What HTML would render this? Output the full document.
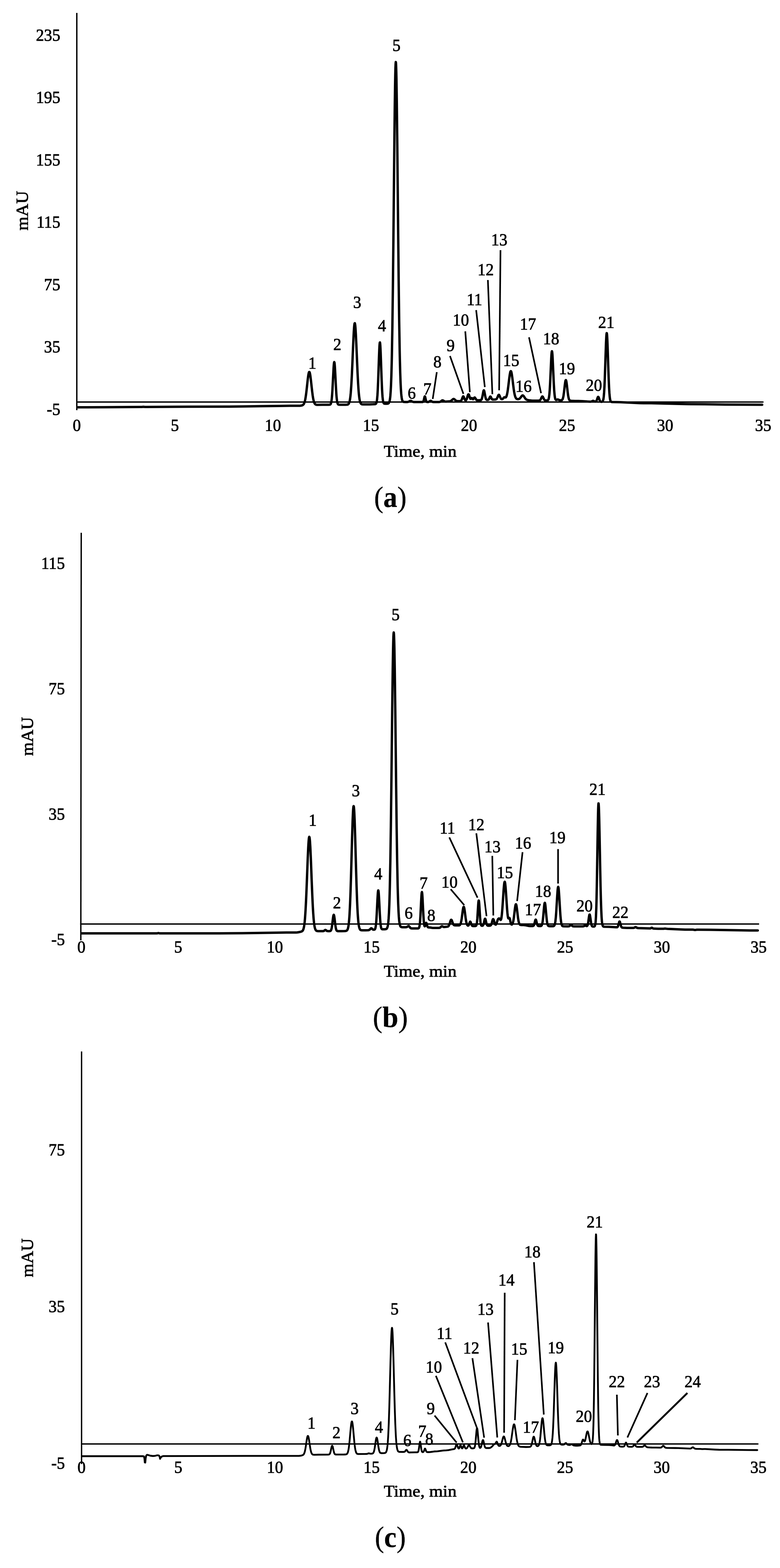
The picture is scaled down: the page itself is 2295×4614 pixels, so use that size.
<!DOCTYPE html>
<html lang="en"><head><meta charset="utf-8"><title>Chromatograms</title>
<style>
html,body{margin:0;padding:0;background:#fff;}
body{width:2295px;height:4614px;overflow:hidden;}
svg{display:block;}
text{font-family:"Liberation Serif", "DejaVu Serif", serif;}
</style></head><body>
<svg width="2295" height="4614" viewBox="0 0 2295 4614" font-family='"Liberation Serif", "DejaVu Serif", serif' fill="none" stroke="#000">
<g><path d="M226.0 38.0 L226.0 1207.0" stroke-width="4.0"/>
<path d="M224.0 1183.0 H2246.5" stroke-width="4.0"/>
<path d="M228 1198.5 L308.5 1198.3 L412.5 1197.6 L417 1197.5 L422 1197 L426.5 1197.4 L430 1197.5 L555 1196.7 L673.5 1196.4 L715.5 1195.9 L822 1194.4 L852.5 1194.1 L880.5 1194 L883 1193.9 L885.5 1193.6 L887.5 1193.2 L889.5 1192.6 L891 1191.8 L892.5 1190.6 L893.5 1189.3 L894 1188.6 L895 1186.6 L896 1183.9 L897 1180.5 L898 1176.2 L899 1170.7 L900.5 1160.6 L902 1148.3 L905.5 1116.4 L907 1104.9 L908 1099.3 L908.5 1097.2 L909 1095.7 L909.5 1094.8 L910 1094.5 L910.5 1094.8 L911 1095.7 L911.5 1097.1 L912 1099.2 L913 1104.7 L914.5 1116.1 L918.5 1152.1 L920 1163.7 L921 1170.1 L922 1175.5 L923.5 1181.6 L924.5 1184.5 L925 1185.7 L926 1187.6 L927 1188.9 L927.5 1189.4 L928.5 1190.1 L930 1190.8 L931 1191 L932.5 1191.2 L935.5 1191.2 L948 1191 L967 1191 L970 1190.8 L971 1190.6 L972 1190 L972.5 1189.5 L973 1188.8 L973.5 1187.7 L974 1186.3 L974.5 1184.5 L975 1182 L976 1174.9 L977 1164.2 L978 1149.4 L981.5 1082.6 L982 1075.4 L982.5 1070 L983 1066.6 L983.5 1065.5 L984 1066.6 L984.5 1070 L985 1075.4 L985.5 1082.6 L986.5 1100.6 L988.5 1140.6 L989.5 1157.3 L990 1164.2 L990.5 1170 L991.5 1178.9 L992 1182 L992.5 1184.5 L993 1186.3 L993.5 1187.7 L994 1188.8 L994.5 1189.5 L995 1190 L995.5 1190.3 L996 1190.6 L997 1190.8 L1000 1191 L1016.5 1191 L1020.5 1190.8 L1022.5 1190.5 L1024 1189.9 L1025 1189.1 L1025.5 1188.6 L1026.5 1187.2 L1027 1186.1 L1028 1183.4 L1029 1179.5 L1030 1173.9 L1031 1166.3 L1032 1156.3 L1033.5 1136.1 L1035 1109.2 L1036.5 1076.6 L1039.5 1005.5 L1041 975.8 L1042 961.6 L1042.5 956.6 L1043 953.1 L1043.5 951.3 L1044 951.1 L1044.5 952.6 L1045 955.7 L1045.5 960.4 L1046 966.6 L1047 982.8 L1048.5 1014.3 L1052 1096.4 L1053.5 1125.7 L1054.5 1141.7 L1055.5 1154.7 L1056 1160.1 L1057 1169.1 L1057.5 1172.7 L1058.5 1178.4 L1059.5 1182.5 L1060.5 1185.3 L1061 1186.3 L1062 1187.8 L1063 1188.7 L1064 1189.3 L1065 1189.7 L1066.5 1189.9 L1070 1190 L1088 1189.9 L1097.5 1189.6 L1103 1189.3 L1104 1189.1 L1105 1188.8 L1106 1188.1 L1106.5 1187.5 L1107 1186.6 L1107.5 1185.4 L1108 1183.7 L1108.5 1181.4 L1109 1178.3 L1109.5 1174.4 L1110.5 1163.1 L1111 1155.5 L1111.5 1146.4 L1112.5 1123.9 L1115 1052.7 L1116 1027.8 L1116.5 1018.4 L1117 1011.7 L1117.5 1008.1 L1118 1007.8 L1118.5 1010.7 L1119 1016.7 L1120 1036.7 L1122.5 1107.5 L1124 1143.8 L1125 1161 L1125.5 1167.5 L1126.5 1176.8 L1127 1180 L1127.5 1182.4 L1128 1184.1 L1128.5 1185.4 L1129 1186.3 L1129.5 1186.9 L1130 1187.4 L1131 1187.8 L1132.5 1188 L1139.5 1187.9 L1141 1187.7 L1142 1187.4 L1143 1186.8 L1143.5 1186.4 L1144.5 1185.1 L1145.5 1183 L1146.5 1179.4 L1147 1176.9 L1148 1169.7 L1148.5 1164.8 L1149.5 1151.6 L1150.5 1132.4 L1151.5 1105.5 L1152.5 1069 L1153 1046.6 L1154.5 960.8 L1156 846.1 L1157.5 706.1 L1160.5 401.2 L1161.5 314.1 L1162.5 245.1 L1163 219.3 L1163.5 199.9 L1164 187.6 L1164.5 182.4 L1165 184.5 L1165.5 193.9 L1166 210.3 L1166.5 233.4 L1167.5 297.7 L1169 428.7 L1171.5 684 L1173 826.3 L1174.5 944.4 L1176 1033.6 L1176.5 1057.1 L1177.5 1095.5 L1178.5 1124 L1179.5 1144.4 L1180.5 1158.5 L1181 1163.7 L1182 1171.3 L1182.5 1174 L1183.5 1177.8 L1184.5 1180.1 L1185.5 1181.4 L1186 1181.8 L1187 1182.4 L1188 1182.7 L1189 1182.8 L1193.5 1183 L1197 1183 L1199 1182.9 L1200.5 1182.6 L1202 1182.2 L1203.5 1181.5 L1206 1180 L1207 1179.6 L1208 1179.5 L1209 1179.6 L1210 1180 L1212.5 1181.5 L1214 1182.2 L1215.5 1182.6 L1217 1182.9 L1220.5 1183 L1240 1183 L1242.5 1183 L1243.5 1182.9 L1244.5 1182.4 L1245 1182 L1245.5 1181.3 L1246 1180.2 L1247 1177 L1249 1168.2 L1249.5 1167 L1250 1166.5 L1250.5 1167 L1251 1168.2 L1253 1177 L1254 1180.2 L1254.5 1181.3 L1255 1182 L1255.5 1182.4 L1256 1182.7 L1257 1182.9 L1259.5 1182.9 L1260.5 1182.8 L1261.5 1182.5 L1263 1181.7 L1265.5 1180 L1266.5 1179.6 L1267 1179.5 L1267.5 1179.6 L1268.5 1180 L1271 1181.7 L1272 1182.3 L1273 1182.6 L1274 1182.8 L1275.5 1183 L1278.5 1183 L1289.5 1183 L1292.5 1182.9 L1294 1182.6 L1295.5 1182.1 L1297 1181.2 L1300 1178.8 L1301 1178.2 L1302 1178 L1302.5 1178 L1303.5 1178.3 L1304.5 1178.9 L1307.5 1180.8 L1308.5 1181.3 L1310 1181.7 L1311.5 1181.8 L1313 1181.7 L1322.5 1181.1 L1325 1180.6 L1326 1180.2 L1327 1179.6 L1328.5 1178.5 L1331.5 1175.7 L1332.5 1174.8 L1333.5 1174.2 L1334.5 1174 L1335.5 1174.1 L1336.5 1174.6 L1337.5 1175.4 L1341 1178.6 L1342 1179.3 L1343.5 1179.9 L1345 1180.3 L1347 1180.5 L1350 1180.4 L1353.5 1180.2 L1355 1179.9 L1356 1179.5 L1357 1178.6 L1357.5 1178 L1358 1177.2 L1359 1175 L1361.5 1168.2 L1362 1167.2 L1362.5 1166.5 L1363 1166.3 L1363.5 1166.5 L1364 1167 L1364.5 1168 L1367 1174.5 L1368 1176.5 L1368.5 1177.1 L1369 1177.6 L1369.5 1177.9 L1370 1178 L1370.5 1177.9 L1371 1177.7 L1371.5 1177.2 L1372 1176.6 L1372.5 1175.7 L1373.5 1173.4 L1374.5 1170.3 L1376 1165 L1377 1162.1 L1377.5 1161.1 L1378 1160.5 L1378.5 1160.3 L1379 1160.6 L1379.5 1161.3 L1380 1162.4 L1383 1171.6 L1383.5 1172.7 L1384 1173.4 L1384.5 1173.8 L1385 1173.8 L1385.5 1173.5 L1387 1171.8 L1387.5 1171.4 L1388 1171.2 L1388.5 1171.4 L1389 1171.9 L1390.5 1173.9 L1391 1174.4 L1391.5 1174.7 L1392 1174.7 L1392.5 1174.4 L1393 1173.8 L1395 1170.8 L1395.5 1170.2 L1396 1169.8 L1396.5 1169.7 L1397 1169.8 L1397.5 1170.2 L1398 1170.8 L1401 1175.7 L1402 1176.8 L1403 1177.4 L1404.5 1177.8 L1406 1177.9 L1411 1177.8 L1413.5 1177.7 L1415 1177.3 L1416 1176.5 L1416.5 1175.9 L1417 1175.1 L1418 1172.6 L1418.5 1170.8 L1419.5 1166.3 L1422 1152.5 L1422.5 1150.5 L1423 1149.2 L1423.5 1148.6 L1424 1148.8 L1424.5 1149.8 L1425 1151.5 L1426 1156.4 L1428 1167.4 L1429 1171.4 L1429.5 1172.9 L1430 1174.1 L1430.5 1175 L1431 1175.6 L1432 1176.4 L1432.5 1176.6 L1433.5 1176.7 L1435 1176.7 L1436.5 1176.3 L1437.5 1175.7 L1438.5 1174.5 L1439 1173.6 L1441.5 1168.1 L1442 1167.3 L1442.5 1166.9 L1443 1166.8 L1443.5 1167.1 L1444 1167.8 L1446 1172 L1447 1173.9 L1447.5 1174.5 L1448.5 1175.4 L1449 1175.6 L1450 1175.8 L1452 1175.8 L1457.5 1175.5 L1458.5 1175.3 L1459.5 1175 L1460.5 1174.4 L1461 1174 L1462 1172.7 L1462.5 1171.8 L1463.5 1169.7 L1466 1163.6 L1466.5 1162.7 L1467 1162 L1467.5 1161.7 L1468 1161.8 L1468.5 1162.1 L1469 1162.8 L1470 1164.8 L1472.5 1170.8 L1473.5 1172.5 L1474 1173.2 L1474.5 1173.7 L1475.5 1174.3 L1476.5 1174.6 L1477.5 1174.5 L1478.5 1174.1 L1479.5 1173.4 L1480.5 1172.4 L1482.5 1170 L1483.5 1169.2 L1484 1169 L1484.5 1168.9 L1485 1168.9 L1486.5 1169.4 L1487.5 1169.5 L1488 1169.4 L1488.5 1169 L1489 1168.4 L1489.5 1167.6 L1490.5 1165.2 L1491.5 1161.7 L1492 1159.5 L1493 1154.4 L1494 1148.2 L1495.5 1137.1 L1498.5 1112.5 L1500 1101.9 L1501 1096.6 L1501.5 1094.7 L1502 1093.2 L1502.5 1092.4 L1503 1092.1 L1503.5 1092.4 L1504 1093.2 L1504.5 1094.7 L1505 1096.6 L1506 1101.9 L1507.5 1112.5 L1510 1133.1 L1511.5 1144.7 L1513 1154.4 L1514 1159.6 L1515 1163.8 L1515.5 1165.6 L1516.5 1168.4 L1517 1169.6 L1518 1171.4 L1518.5 1172.1 L1519.5 1173.1 L1520 1173.5 L1521 1174.1 L1522 1174.4 L1523 1174.6 L1524.5 1174.6 L1525.5 1174.5 L1526.5 1174.2 L1527.5 1173.8 L1529 1172.8 L1530.5 1171.4 L1532 1169.5 L1534.5 1166 L1535.5 1164.8 L1536.5 1164 L1537 1163.7 L1538 1163.5 L1539 1163.8 L1539.5 1164.1 L1540.5 1165.1 L1542 1167.1 L1545 1171.8 L1546 1173.1 L1547 1174.2 L1548 1175.1 L1549 1175.8 L1550 1176.3 L1551.5 1176.9 L1554 1177.5 L1557.5 1178.1 L1562 1178.6 L1566 1178.9 L1569 1179 L1573.5 1179 L1585.5 1178.8 L1587 1178.6 L1588 1178.2 L1589 1177.6 L1589.5 1177.1 L1590.5 1175.8 L1591 1174.9 L1593.5 1169.4 L1594.5 1167.6 L1595 1167 L1595.5 1166.7 L1596 1166.6 L1596.5 1166.9 L1597 1167.4 L1597.5 1168.2 L1600.5 1174.6 L1601.5 1176.2 L1602.5 1177.3 L1603 1177.6 L1604 1178.1 L1605.5 1178.4 L1609 1178.4 L1611 1178.1 L1612 1177.6 L1612.5 1177.2 L1613 1176.6 L1613.5 1175.7 L1614 1174.6 L1614.5 1172.9 L1615 1170.8 L1615.5 1167.9 L1616.5 1159.7 L1617.5 1147.3 L1618.5 1130.3 L1622 1053.2 L1622.5 1044.9 L1623 1038.7 L1623.5 1034.8 L1624 1033.5 L1624.5 1034.8 L1625 1038.7 L1625.5 1044.9 L1626 1053.1 L1629.5 1130.1 L1630.5 1147.1 L1631 1153.9 L1632 1164 L1632.5 1167.7 L1633 1170.5 L1633.5 1172.6 L1634 1174.1 L1634.5 1175.3 L1635 1176 L1635.5 1176.5 L1636 1176.7 L1636.5 1176.8 L1637.5 1176.7 L1640 1175.6 L1641 1175.5 L1641.5 1175.5 L1642.5 1175.8 L1645 1177.1 L1646.5 1177.7 L1648.5 1178 L1650.5 1178 L1652 1177.8 L1653 1177.4 L1654 1176.7 L1655 1175.3 L1656 1172.9 L1656.5 1171.3 L1657.5 1167 L1658 1164.3 L1659.5 1153.7 L1662 1132 L1663 1124.7 L1663.5 1121.9 L1664 1119.9 L1664.5 1118.8 L1665 1118.5 L1665.5 1119.2 L1666 1120.7 L1666.5 1123.1 L1667 1126.2 L1668 1133.9 L1670.5 1155.8 L1671.5 1163.1 L1672.5 1168.7 L1673.5 1172.8 L1674.5 1175.6 L1675.5 1177.3 L1676 1177.9 L1677 1178.6 L1678.5 1179.2 L1681.5 1179.5 L1691.5 1179.9 L1702.5 1180 L1707 1180.2 L1713.5 1180.5 L1728.5 1181.6 L1736 1181.9 L1738 1181.9 L1739.5 1181.6 L1741 1181.1 L1743.5 1179.8 L1744.5 1179.5 L1745 1179.5 L1745.5 1179.5 L1746.5 1179.8 L1749 1181.1 L1750 1181.5 L1751 1181.7 L1752 1181.8 L1753 1181.5 L1753.5 1181.2 L1754.5 1180.1 L1755 1179.3 L1756 1177.1 L1758.5 1169.9 L1759 1168.8 L1759.5 1168.1 L1760 1167.8 L1760.5 1168 L1761 1168.5 L1761.5 1169.5 L1764.5 1178.1 L1765 1179.2 L1766 1180.8 L1767 1181.7 L1768 1182.2 L1769 1182.3 L1770 1182.4 L1771.5 1182.1 L1772.5 1181.6 L1773 1181.1 L1773.5 1180.5 L1774 1179.5 L1774.5 1178.1 L1775 1176.3 L1775.5 1173.8 L1776 1170.5 L1776.5 1166.3 L1777.5 1154.5 L1778.5 1137.1 L1779.5 1113.9 L1783 1010.1 L1784 989.5 L1784.5 983.3 L1785 980.3 L1785.5 980.6 L1786 984.3 L1786.5 991.1 L1787 1000.8 L1788 1026.6 L1790 1088.7 L1791 1116.7 L1792 1139.4 L1793 1156.2 L1794 1167.5 L1794.5 1171.6 L1795 1174.7 L1795.5 1177 L1796 1178.8 L1796.5 1180.1 L1797 1181 L1797.5 1181.7 L1798.5 1182.4 L1799.5 1182.8 L1801 1183 L1814 1183.2 L1825.5 1183.6 L1867 1185.6 L1882.5 1186.2 L1893.5 1186.5 L1915.5 1186.6 L1935.5 1186.9 L2018.5 1189.1 L2037.5 1189.3 L2073 1189.5 L2134.5 1190.4 L2242.5 1191" stroke-width="7.0" stroke-linejoin="round" stroke-linecap="round"/>
<path d="M1285.2 1095.0 L1273.2 1174.0" stroke-width="4.8"/>
<path d="M1324.0 1047.5 L1363.5 1159.0" stroke-width="4.8"/>
<path d="M1369.0 975.0 L1382.5 1154.0" stroke-width="4.8"/>
<path d="M1401.0 912.5 L1426.5 1139.0" stroke-width="4.8"/>
<path d="M1435.5 824.0 L1448.7 1160.0" stroke-width="4.8"/>
<path d="M1472.6 736.0 L1468.6 1148.5" stroke-width="4.8"/>
<path d="M1556.5 992.5 L1592.0 1157.0" stroke-width="4.8"/>
<g stroke="#000" stroke-width="1.2" stroke-linejoin="round" fill="#000">
<text transform="translate(177.5 119.9) scale(0.930 1)" font-size="51.5" text-anchor="end">235</text>
<text transform="translate(177.5 303.4) scale(0.930 1)" font-size="51.5" text-anchor="end">195</text>
<text transform="translate(177.5 486.9) scale(0.930 1)" font-size="51.5" text-anchor="end">155</text>
<text transform="translate(177.5 670.4) scale(0.930 1)" font-size="51.5" text-anchor="end">115</text>
<text transform="translate(177.5 853.9) scale(0.930 1)" font-size="51.5" text-anchor="end">75</text>
<text transform="translate(177.5 1037.4) scale(0.930 1)" font-size="51.5" text-anchor="end">35</text>
<text transform="translate(177.5 1220.9) scale(0.930 1)" font-size="51.5" text-anchor="end">-5</text>
<text transform="translate(226.0 1267.8) scale(0.930 1)" font-size="51.5" text-anchor="middle">0</text>
<text transform="translate(514.5 1267.8) scale(0.930 1)" font-size="51.5" text-anchor="middle">5</text>
<text transform="translate(803.0 1267.8) scale(0.930 1)" font-size="51.5" text-anchor="middle">10</text>
<text transform="translate(1091.5 1267.8) scale(0.930 1)" font-size="51.5" text-anchor="middle">15</text>
<text transform="translate(1380.0 1267.8) scale(0.930 1)" font-size="51.5" text-anchor="middle">20</text>
<text transform="translate(1668.5 1267.8) scale(0.930 1)" font-size="51.5" text-anchor="middle">25</text>
<text transform="translate(1957.0 1267.8) scale(0.930 1)" font-size="51.5" text-anchor="middle">30</text>
<text transform="translate(2245.5 1267.8) scale(0.930 1)" font-size="51.5" text-anchor="middle">35</text>
<text transform="translate(919.0 1084.8) scale(0.930 1)" font-size="51.5" text-anchor="middle">1</text>
<text transform="translate(992.5 1029.8) scale(0.930 1)" font-size="51.5" text-anchor="middle">2</text>
<text transform="translate(1051.0 905.8) scale(0.930 1)" font-size="51.5" text-anchor="middle">3</text>
<text transform="translate(1124.0 974.8) scale(0.930 1)" font-size="51.5" text-anchor="middle">4</text>
<text transform="translate(1166.5 149.8) scale(0.930 1)" font-size="51.5" text-anchor="middle">5</text>
<text transform="translate(1211.5 1172.8) scale(0.930 1)" font-size="51.5" text-anchor="middle">6</text>
<text transform="translate(1257.5 1161.3) scale(0.930 1)" font-size="51.5" text-anchor="middle">7</text>
<text transform="translate(1287.0 1080.8) scale(0.930 1)" font-size="51.5" text-anchor="middle">8</text>
<text transform="translate(1326.0 1033.3) scale(0.930 1)" font-size="51.5" text-anchor="middle">9</text>
<text transform="translate(1356.0 958.3) scale(0.930 1)" font-size="51.5" text-anchor="middle">10</text>
<text transform="translate(1396.0 898.3) scale(0.930 1)" font-size="51.5" text-anchor="middle">11</text>
<text transform="translate(1429.0 809.8) scale(0.930 1)" font-size="51.5" text-anchor="middle">12</text>
<text transform="translate(1469.0 721.8) scale(0.930 1)" font-size="51.5" text-anchor="middle">13</text>
<text transform="translate(1504.0 1076.8) scale(0.930 1)" font-size="51.5" text-anchor="middle">15</text>
<text transform="translate(1540.5 1153.3) scale(0.930 1)" font-size="51.5" text-anchor="middle">16</text>
<text transform="translate(1553.5 969.8) scale(0.930 1)" font-size="51.5" text-anchor="middle">17</text>
<text transform="translate(1621.5 1013.3) scale(0.930 1)" font-size="51.5" text-anchor="middle">18</text>
<text transform="translate(1668.0 1100.8) scale(0.930 1)" font-size="51.5" text-anchor="middle">19</text>
<text transform="translate(1747.5 1149.8) scale(0.930 1)" font-size="51.5" text-anchor="middle">20</text>
<text transform="translate(1784.0 964.8) scale(0.930 1)" font-size="51.5" text-anchor="middle">21</text>
<text transform="translate(82.0 620.0) rotate(-90) scale(1.030 1)" font-size="51" text-anchor="middle">mAU</text>
<text transform="translate(1236.3 1344.0) scale(1.070 1)" font-size="48.5" text-anchor="middle">Time, min</text>
<text transform="translate(1148.5 1491.5) scale(0.935 1)" font-size="87.5" stroke-width="0.5" text-anchor="middle">(<tspan font-weight="bold">a</tspan>)</text>
</g></g>
<g><path d="M239.0 1567.8 L237.8 2767.0" stroke-width="4.0"/>
<path d="M235.8 2719.0 H2233.5" stroke-width="4.0"/>
<path d="M240 2746.5 L460 2746.5 L462.5 2746.4 L465 2745.8 L466 2745.7 L467 2745.8 L469.5 2746.4 L472.5 2746.5 L643 2746.5 L676 2746.3 L714 2745.9 L813.5 2744.4 L842.5 2744.1 L871 2744 L874.5 2743.7 L879 2743 L884.5 2741.8 L886 2741.4 L887.5 2740.9 L888.5 2740.4 L889.5 2739.7 L890.5 2738.6 L891 2737.9 L892 2736 L892.5 2734.8 L893.5 2731.5 L894.5 2726.9 L895.5 2720.6 L896.5 2712.1 L897.5 2701 L899 2679.1 L900.5 2650.3 L902 2615.3 L905.5 2524.5 L907 2492 L908 2476.1 L908.5 2470.2 L909 2466 L909.5 2463.4 L910 2462.5 L910.5 2463.3 L911 2465.9 L911.5 2470.1 L912 2475.9 L913 2491.8 L914.5 2524.2 L917.5 2602 L919 2638.5 L920.5 2669.5 L921.5 2686.3 L922.5 2700.2 L923 2706 L924 2715.7 L924.5 2719.6 L925.5 2726 L926.5 2730.6 L927.5 2733.8 L928.5 2736 L929 2736.9 L930 2738.1 L930.5 2738.5 L931.5 2739.1 L932.5 2739.5 L934 2739.8 L936 2739.9 L939 2740 L948.5 2740 L951 2739.9 L952 2739.7 L953 2739.3 L954 2738.6 L956 2737 L957 2736.5 L957.5 2736.5 L958 2736.6 L958.5 2736.8 L961.5 2739.1 L962.5 2739.6 L963.5 2739.8 L966 2740 L970 2739.9 L971.5 2739.6 L972.5 2739.1 L973 2738.7 L973.5 2738.1 L974 2737.2 L974.5 2736.1 L975.5 2732.7 L976 2730.4 L976.5 2727.5 L977.5 2720.5 L979.5 2703.7 L980.5 2696.6 L981 2694.1 L981.5 2692.5 L982 2692 L982.5 2692.5 L983 2694.1 L983.5 2696.6 L984.5 2703.7 L986.5 2720.5 L987.5 2727.5 L988 2730.4 L989 2734.6 L989.5 2736.1 L990 2737.2 L990.5 2738.1 L991 2738.7 L991.5 2739.1 L992.5 2739.6 L993.5 2739.9 L995.5 2740 L1005 2740 L1014 2739.7 L1017.5 2739.4 L1018.5 2739.1 L1019.5 2738.7 L1020.5 2738.1 L1021 2737.6 L1022 2736.3 L1022.5 2735.4 L1023.5 2732.8 L1024 2731.1 L1025 2726.4 L1026 2719.6 L1027 2710.2 L1028 2697.5 L1028.5 2689.8 L1030 2660.1 L1031.5 2620.3 L1033 2571.4 L1036 2462.3 L1037.5 2415.3 L1038.5 2392 L1039 2383.4 L1039.5 2377.1 L1040 2373.3 L1040.5 2372 L1041 2373.2 L1041.5 2377 L1042 2383.2 L1042.5 2391.8 L1043.5 2415 L1045 2461.8 L1047.5 2552.9 L1049 2604.1 L1050.5 2646.9 L1051.5 2670 L1052.5 2688.6 L1053 2696.3 L1054 2708.9 L1054.5 2713.9 L1055.5 2721.8 L1056 2724.8 L1057 2729.5 L1058 2732.5 L1058.5 2733.7 L1059.5 2735.2 L1060.5 2736.2 L1061.5 2736.8 L1062.5 2737.1 L1064 2737.4 L1067.5 2737.5 L1075.5 2737.4 L1082.5 2737.2 L1085 2736.9 L1086.5 2736.3 L1087.5 2735.7 L1088.5 2734.8 L1091 2732.1 L1091.5 2731.8 L1092 2731.5 L1092.5 2731.5 L1093 2731.6 L1094 2732.2 L1096 2734.2 L1097 2735 L1098 2735.5 L1099 2735.8 L1100.5 2735.8 L1101.5 2735.5 L1102.5 2735 L1103 2734.4 L1103.5 2733.7 L1104 2732.6 L1104.5 2731.1 L1105 2729 L1105.5 2726.2 L1106.5 2718 L1107 2712.4 L1107.5 2705.6 L1108.5 2688.7 L1110.5 2648.2 L1111.5 2631.1 L1112 2625.1 L1112.5 2621.3 L1113 2620 L1113.5 2621.2 L1114 2625 L1114.5 2630.9 L1115.5 2647.8 L1117.5 2688.2 L1118.5 2704.9 L1119.5 2717.3 L1120 2721.8 L1120.5 2725.3 L1121 2728.1 L1121.5 2730.1 L1122 2731.5 L1122.5 2732.6 L1123 2733.3 L1123.5 2733.8 L1124.5 2734.3 L1125.5 2734.4 L1127 2734.5 L1131 2734.5 L1133.5 2734.3 L1135 2734.1 L1136 2733.8 L1137 2733.2 L1137.5 2732.9 L1138.5 2731.7 L1139.5 2729.7 L1140.5 2726.6 L1141 2724.4 L1142 2718.1 L1142.5 2713.8 L1143.5 2702.2 L1144.5 2685.3 L1145.5 2661.6 L1146.5 2629.5 L1147 2609.7 L1148.5 2534.3 L1150 2433.4 L1151.5 2310.6 L1154 2086.8 L1155.5 1969.9 L1156.5 1911.3 L1157 1889.7 L1157.5 1873.9 L1158 1864.3 L1158.5 1861 L1159 1864.1 L1159.5 1873.6 L1160 1889.2 L1160.5 1910.6 L1161.5 1968.8 L1163 2085.3 L1165.5 2308.1 L1167 2430.5 L1168.5 2530.9 L1170 2606 L1170.5 2625.6 L1171.5 2657.4 L1172.5 2680.9 L1173.5 2697.5 L1174.5 2708.9 L1175 2713.1 L1176 2719.2 L1176.5 2721.4 L1177.5 2724.4 L1178.5 2726.2 L1179.5 2727.2 L1180 2727.6 L1181 2728 L1183 2728.4 L1187.5 2728.5 L1194.5 2728.4 L1196 2728.2 L1197.5 2727.7 L1198.5 2727.1 L1201 2725.2 L1201.5 2725 L1202 2724.9 L1202.5 2725 L1203 2725.2 L1203.5 2725.6 L1204.5 2726.7 L1206.5 2729.3 L1207.5 2730.4 L1208 2730.8 L1209 2731.4 L1210.5 2731.8 L1211.5 2732 L1213 2732 L1229 2732 L1230 2731.9 L1231 2731.7 L1232 2731.1 L1232.5 2730.6 L1233 2729.7 L1233.5 2728.5 L1234 2726.7 L1234.5 2724.2 L1235 2720.8 L1235.5 2716.4 L1236 2710.7 L1237 2695.4 L1239 2654.4 L1240 2636.1 L1240.5 2629.8 L1241 2626 L1241.5 2625 L1242 2627 L1242.5 2631.8 L1243 2638.9 L1245.5 2688.9 L1246.5 2705.4 L1247 2711.7 L1247.5 2716.7 L1248 2720.5 L1248.5 2723.2 L1249 2724.9 L1249.5 2725.7 L1250 2725.8 L1250.5 2725.2 L1251 2724 L1251.5 2722.4 L1253 2717 L1253.5 2715.9 L1254 2715.5 L1254.5 2715.8 L1255 2716.9 L1257 2724.1 L1258 2726.8 L1258.5 2727.6 L1259 2728.2 L1259.5 2728.6 L1260.5 2728.9 L1265 2729.2 L1271.5 2730.2 L1274 2730.5 L1291.5 2730.5 L1292.5 2730.4 L1293.5 2730.2 L1295 2729.5 L1296 2728.7 L1298.5 2726.3 L1299.5 2725.7 L1300 2725.5 L1300.5 2725.5 L1301.5 2725.7 L1304.5 2727.4 L1306 2727.8 L1307.5 2727.8 L1312 2727.2 L1315.5 2726.9 L1317 2726.7 L1318 2726.4 L1319 2725.7 L1320 2724.7 L1321 2723 L1321.5 2722 L1322.5 2719.4 L1325.5 2709.7 L1326.5 2707.5 L1327 2706.8 L1327.5 2706.5 L1328 2706.6 L1328.5 2707 L1329 2707.7 L1329.5 2708.8 L1332.5 2717.1 L1333.5 2719.3 L1334.5 2720.9 L1335 2721.5 L1336 2722.3 L1337 2722.7 L1338.5 2722.9 L1347 2723.1 L1350 2723 L1351 2722.9 L1352 2722.5 L1353 2721.9 L1353.5 2721.4 L1354.5 2719.8 L1355.5 2717.4 L1356.5 2713.8 L1357.5 2708.9 L1358.5 2702.7 L1361.5 2679.9 L1362.5 2673.7 L1363 2671.4 L1363.5 2669.7 L1364 2668.7 L1364.5 2668.5 L1365 2669.1 L1365.5 2670.4 L1366 2672.4 L1366.5 2675.1 L1367.5 2681.7 L1370 2701.2 L1371.5 2710.8 L1372 2713.4 L1373 2717.4 L1374 2720.3 L1375 2722.1 L1376 2723.2 L1376.5 2723.5 L1377 2723.7 L1377.5 2723.6 L1378 2723.4 L1378.5 2723 L1379 2722.4 L1380 2720.3 L1382 2714.5 L1382.5 2713.3 L1383 2712.5 L1383.5 2712.1 L1384 2712.3 L1384.5 2712.9 L1385.5 2715.4 L1387.5 2721.3 L1388.5 2723.2 L1389 2723.8 L1389.5 2724.3 L1390.5 2724.7 L1391.5 2724.9 L1392.5 2725 L1398 2724.9 L1399 2724.8 L1400 2724.5 L1400.5 2724.2 L1401 2723.7 L1401.5 2722.8 L1402 2721.5 L1402.5 2719.6 L1403 2716.9 L1403.5 2713.2 L1404.5 2702.3 L1407 2662.3 L1407.5 2655.9 L1408 2651.6 L1408.5 2649.8 L1409 2650.5 L1409.5 2653.9 L1410 2659.5 L1412.5 2699.3 L1413.5 2711.1 L1414 2715.2 L1414.5 2718.3 L1415 2720.5 L1415.5 2722 L1416 2723 L1416.5 2723.6 L1417 2723.9 L1417.5 2724.1 L1418.5 2724.2 L1419.5 2724.1 L1420 2723.9 L1420.5 2723.6 L1421 2723.1 L1421.5 2722.4 L1422 2721.5 L1422.5 2720.3 L1423 2718.8 L1424 2714.8 L1425.5 2707.8 L1426 2705.9 L1426.5 2704.4 L1427 2703.6 L1427.5 2703.6 L1428 2704.2 L1428.5 2705.5 L1429 2707.3 L1431 2716.3 L1432 2719.8 L1432.5 2721.1 L1433 2722 L1433.5 2722.7 L1434 2723.2 L1434.5 2723.5 L1435.5 2723.9 L1436.5 2724 L1441 2723.9 L1442.5 2723.6 L1443.5 2723.1 L1444 2722.7 L1445 2721.3 L1446 2719.1 L1447 2716 L1448.5 2710.3 L1449.5 2706.9 L1450 2705.6 L1450.5 2704.8 L1451 2704.5 L1451.5 2704.7 L1452 2705.4 L1452.5 2706.6 L1453 2708.1 L1455 2715.2 L1456 2718.1 L1456.5 2719.2 L1457 2720 L1457.5 2720.6 L1458 2720.8 L1458.5 2720.9 L1459 2720.6 L1459.5 2720.2 L1460 2719.5 L1460.5 2718.5 L1461.5 2715.9 L1464 2707.9 L1465 2705.5 L1466 2703.9 L1466.5 2703.4 L1467.5 2702.8 L1468.5 2702.6 L1469 2702.7 L1469.5 2703 L1470 2703.4 L1470.5 2704 L1472 2706.1 L1472.5 2706.7 L1473 2706.9 L1473.5 2706.7 L1474 2706 L1474.5 2704.7 L1475 2702.6 L1476 2696.4 L1476.5 2692.1 L1477.5 2681.5 L1479 2661.1 L1481.5 2623 L1482.5 2610 L1483.5 2600.4 L1484 2597.3 L1484.5 2595.4 L1485 2594.7 L1485.5 2595.4 L1486 2597.3 L1486.5 2600.4 L1487.5 2610 L1488.5 2623 L1492 2675.1 L1493 2686.8 L1494 2695.5 L1494.5 2698.5 L1495 2700.7 L1495.5 2702 L1496 2702.6 L1496.5 2702.5 L1498 2701 L1498.5 2700.9 L1499 2701.2 L1499.5 2702.2 L1500 2703.7 L1500.5 2705.7 L1502 2712.8 L1503 2716.8 L1503.5 2718.2 L1504 2719.3 L1504.5 2720 L1505 2720.5 L1505.5 2720.6 L1506 2720.6 L1506.5 2720.3 L1507 2719.8 L1507.5 2719.1 L1508.5 2717.1 L1509 2715.6 L1510 2711.8 L1511 2706.5 L1512 2699.7 L1515 2674.5 L1516 2667.4 L1516.5 2664.6 L1517 2662.6 L1517.5 2661.3 L1518 2660.9 L1518.5 2661.3 L1519 2662.6 L1519.5 2664.6 L1520 2667.4 L1521 2674.5 L1524 2699.7 L1525.5 2709.3 L1526.5 2713.9 L1527.5 2717.1 L1528.5 2719.2 L1529.5 2720.5 L1530 2720.9 L1531 2721.5 L1532.5 2721.8 L1534.5 2722 L1541 2722 L1543 2722.2 L1546.5 2722.7 L1554 2724.4 L1557 2724.8 L1559.5 2725 L1565.5 2725 L1567.5 2724.9 L1568.5 2724.7 L1569.5 2724.2 L1570 2723.8 L1570.5 2723.1 L1571 2722.3 L1571.5 2721.1 L1572.5 2717.8 L1574.5 2709.5 L1575 2707.8 L1575.5 2706.6 L1576 2706 L1576.5 2706 L1577 2706.8 L1577.5 2708.1 L1578 2709.9 L1579.5 2716.3 L1580.5 2720 L1581.5 2722.5 L1582 2723.3 L1582.5 2724 L1583 2724.4 L1584 2724.8 L1586 2725.1 L1589 2725.1 L1590.5 2725 L1591.5 2724.8 L1592.5 2724.3 L1593 2723.9 L1593.5 2723.3 L1594 2722.5 L1594.5 2721.4 L1595 2719.9 L1595.5 2718 L1596.5 2712.7 L1597 2709.1 L1598 2700.1 L1601 2666.9 L1601.5 2662.6 L1602 2659.4 L1602.5 2657.4 L1603 2656.7 L1603.5 2657.4 L1604 2659.4 L1604.5 2662.6 L1605 2666.9 L1607.5 2694.9 L1609 2709.2 L1610 2715.8 L1610.5 2718.2 L1611 2720.1 L1611.5 2721.6 L1612 2722.7 L1612.5 2723.5 L1613 2724.1 L1614 2724.8 L1615.5 2725.2 L1619 2725.4 L1627 2725.4 L1628.5 2725.2 L1629.5 2724.8 L1630 2724.4 L1631 2723.3 L1631.5 2722.4 L1632 2721.2 L1632.5 2719.7 L1633 2717.7 L1634 2712 L1635 2703.7 L1635.5 2698.3 L1636.5 2685.4 L1639.5 2635.8 L1640.5 2621.7 L1641 2616.4 L1641.5 2612.5 L1642 2610.3 L1642.5 2609.7 L1643 2611 L1643.5 2613.9 L1644 2618.4 L1644.5 2624.3 L1645.5 2639.1 L1648 2681 L1649 2694.9 L1650 2705.7 L1651 2713.5 L1652 2718.7 L1652.5 2720.5 L1653 2721.9 L1653.5 2723 L1654 2723.8 L1654.5 2724.4 L1655 2724.8 L1656 2725.3 L1657 2725.6 L1658 2725.7 L1670.5 2725.9 L1673.5 2725.8 L1674.5 2725.5 L1675.5 2725.1 L1676.5 2724.3 L1678.5 2722.2 L1679.5 2721.6 L1680 2721.5 L1680.5 2721.6 L1681.5 2722.3 L1683.5 2724.3 L1684.5 2725.1 L1685 2725.4 L1686 2725.7 L1687.5 2725.9 L1714.5 2726 L1716 2725.8 L1717 2725.6 L1718 2725.1 L1720.5 2723.8 L1721.5 2723.5 L1722 2723.5 L1723 2723.7 L1725.5 2724.8 L1726 2725 L1726.5 2725 L1727 2724.9 L1727.5 2724.6 L1728 2724.1 L1728.5 2723.2 L1729 2721.9 L1729.5 2720.2 L1730 2718 L1731 2712 L1732.5 2701 L1733.5 2694.5 L1734 2692.4 L1734.5 2691.2 L1735 2691.1 L1735.5 2692.1 L1736 2694.1 L1737 2700.3 L1739 2714.8 L1740 2720 L1740.5 2721.9 L1741 2723.4 L1741.5 2724.4 L1742 2725.2 L1742.5 2725.7 L1743.5 2726.3 L1745 2726.5 L1747 2726.6 L1748 2726.5 L1749 2726.1 L1749.5 2725.7 L1750 2725 L1750.5 2724 L1751 2722.5 L1751.5 2720.2 L1752 2716.9 L1752.5 2712.3 L1753 2705.8 L1753.5 2697.2 L1754.5 2671.6 L1755 2653.9 L1756 2607.7 L1758.5 2452.2 L1759.5 2398.5 L1760 2379.7 L1760.5 2367.9 L1761 2363.9 L1761.5 2366.7 L1762 2375 L1762.5 2388.3 L1763 2406.2 L1764 2452.2 L1766 2559.6 L1767 2607.9 L1768 2647.4 L1769 2676.9 L1770 2697.4 L1770.5 2704.8 L1771 2710.6 L1771.5 2715 L1772 2718.4 L1772.5 2720.9 L1773 2722.8 L1773.5 2724.1 L1774 2725 L1774.5 2725.7 L1775 2726.1 L1776 2726.7 L1777 2726.9 L1778 2727 L1791.5 2727.3 L1800.5 2727.7 L1813 2728.6 L1814.5 2728.6 L1815.5 2728.5 L1816.5 2728 L1817 2727.5 L1817.5 2726.9 L1818 2726 L1819 2723.4 L1821.5 2714 L1822 2712.7 L1822.5 2711.8 L1823 2711.5 L1823.5 2711.9 L1824 2712.8 L1824.5 2714.3 L1827 2723.9 L1827.5 2725.5 L1828.5 2727.7 L1829 2728.4 L1829.5 2728.9 L1830.5 2729.5 L1831.5 2729.8 L1833.5 2730 L1845 2730.4 L1863 2730.6 L1864.5 2730.4 L1865.5 2730.1 L1866.5 2729.7 L1868.5 2728.4 L1869.5 2728 L1870 2728 L1870.5 2728.1 L1871.5 2728.5 L1873.5 2729.8 L1874.5 2730.4 L1876 2730.8 L1878 2731 L1912 2732.1 L1913 2732 L1914 2731.8 L1917 2730.1 L1917.5 2730 L1918 2730 L1919 2730.4 L1921 2731.7 L1922 2732.2 L1923 2732.4 L1924.5 2732.6 L1936.5 2732.9 L1948.5 2733 L1952 2732.9 L1956 2732.5 L1957.5 2732.5 L1962.5 2733.1 L1964.5 2733.3 L2003.5 2735.1 L2015.5 2735.5 L2038 2735.6 L2040 2735.7 L2043.5 2736.4 L2045 2736.5 L2046.5 2736.4 L2050.5 2735.8 L2055 2735.7 L2089.5 2736.1 L2179.5 2737.6 L2206 2737.9 L2229.5 2738" stroke-width="7.0" stroke-linejoin="round" stroke-linecap="round"/>
<path d="M1326.0 2616.5 L1366.0 2663.5" stroke-width="4.8"/>
<path d="M1322.0 2464.0 L1405.0 2641.5" stroke-width="4.8"/>
<path d="M1401.5 2452.0 L1431.5 2696.0" stroke-width="4.8"/>
<path d="M1448.5 2518.5 L1451.5 2694.0" stroke-width="4.8"/>
<path d="M1537.5 2507.5 L1521.5 2651.5" stroke-width="4.8"/>
<path d="M1642.0 2498.5 L1642.0 2600.0" stroke-width="4.8"/>
<g stroke="#000" stroke-width="1.2" stroke-linejoin="round" fill="#000">
<text transform="translate(191.0 1673.6) scale(0.930 1)" font-size="51.5" text-anchor="end">115</text>
<text transform="translate(191.0 2042.6) scale(0.930 1)" font-size="51.5" text-anchor="end">75</text>
<text transform="translate(191.0 2411.7) scale(0.930 1)" font-size="51.5" text-anchor="end">35</text>
<text transform="translate(191.0 2780.8) scale(0.930 1)" font-size="51.5" text-anchor="end">-5</text>
<text transform="translate(239.5 2803.3) scale(0.930 1)" font-size="51.5" text-anchor="middle">0</text>
<text transform="translate(524.1 2803.3) scale(0.930 1)" font-size="51.5" text-anchor="middle">5</text>
<text transform="translate(808.8 2803.3) scale(0.930 1)" font-size="51.5" text-anchor="middle">10</text>
<text transform="translate(1093.5 2803.3) scale(0.930 1)" font-size="51.5" text-anchor="middle">15</text>
<text transform="translate(1378.1 2803.3) scale(0.930 1)" font-size="51.5" text-anchor="middle">20</text>
<text transform="translate(1662.8 2803.3) scale(0.930 1)" font-size="51.5" text-anchor="middle">25</text>
<text transform="translate(1947.4 2803.3) scale(0.930 1)" font-size="51.5" text-anchor="middle">30</text>
<text transform="translate(2232.1 2803.3) scale(0.930 1)" font-size="51.5" text-anchor="middle">35</text>
<text transform="translate(920.0 2429.8) scale(0.930 1)" font-size="51.5" text-anchor="middle">1</text>
<text transform="translate(991.5 2673.3) scale(0.930 1)" font-size="51.5" text-anchor="middle">2</text>
<text transform="translate(1047.0 2343.3) scale(0.930 1)" font-size="51.5" text-anchor="middle">3</text>
<text transform="translate(1113.0 2588.3) scale(0.930 1)" font-size="51.5" text-anchor="middle">4</text>
<text transform="translate(1164.0 1824.8) scale(0.930 1)" font-size="51.5" text-anchor="middle">5</text>
<text transform="translate(1202.5 2703.3) scale(0.930 1)" font-size="51.5" text-anchor="middle">6</text>
<text transform="translate(1246.5 2614.8) scale(0.930 1)" font-size="51.5" text-anchor="middle">7</text>
<text transform="translate(1269.0 2709.8) scale(0.930 1)" font-size="51.5" text-anchor="middle">8</text>
<text transform="translate(1322.5 2611.8) scale(0.930 1)" font-size="51.5" text-anchor="middle">10</text>
<text transform="translate(1316.5 2453.3) scale(0.930 1)" font-size="51.5" text-anchor="middle">11</text>
<text transform="translate(1401.5 2442.8) scale(0.930 1)" font-size="51.5" text-anchor="middle">12</text>
<text transform="translate(1449.0 2508.3) scale(0.930 1)" font-size="51.5" text-anchor="middle">13</text>
<text transform="translate(1485.5 2584.3) scale(0.930 1)" font-size="51.5" text-anchor="middle">15</text>
<text transform="translate(1539.0 2497.3) scale(0.930 1)" font-size="51.5" text-anchor="middle">16</text>
<text transform="translate(1568.0 2693.3) scale(0.930 1)" font-size="51.5" text-anchor="middle">17</text>
<text transform="translate(1598.0 2639.3) scale(0.930 1)" font-size="51.5" text-anchor="middle">18</text>
<text transform="translate(1640.0 2480.8) scale(0.930 1)" font-size="51.5" text-anchor="middle">19</text>
<text transform="translate(1720.0 2681.8) scale(0.930 1)" font-size="51.5" text-anchor="middle">20</text>
<text transform="translate(1758.0 2339.3) scale(0.930 1)" font-size="51.5" text-anchor="middle">21</text>
<text transform="translate(1825.5 2701.3) scale(0.930 1)" font-size="51.5" text-anchor="middle">22</text>
<text transform="translate(97.0 2167.0) rotate(-90) scale(1.011 1)" font-size="51" text-anchor="middle">mAU</text>
<text transform="translate(1236.3 2874.0) scale(1.070 1)" font-size="48.5" text-anchor="middle">Time, min</text>
<text transform="translate(1148.5 3022.0) scale(0.965 1)" font-size="87.5" stroke-width="0.5" text-anchor="middle">(<tspan font-weight="bold">b</tspan>)</text>
</g></g>
<g><path d="M240.0 3094.0 L240.0 4308.0" stroke-width="4.0"/>
<path d="M238.0 4249.0 H2231.5" stroke-width="4.0"/>
<path d="M242 4285 L420.5 4284.8 L421 4285 L423.5 4285.5 L425 4292 L426 4303.5 L427.5 4303.8 L428.5 4292 L430 4284 L432.5 4280.8 L436 4281.5 L442 4283.5 L450 4284.5 L457 4283.8 L463 4282.3 L467.5 4282.8 L469.5 4286 L471 4292.8 L472.5 4290 L475 4286.5 L479 4285 L479.5 4284.7 L726.5 4284.1 L880 4284 L882 4283.9 L885 4283.5 L888 4282.8 L890 4282.1 L891.5 4281.4 L892.5 4280.6 L893.5 4279.5 L894.5 4278 L895.5 4275.7 L896.5 4272.7 L897 4270.8 L898.5 4263.7 L900 4254.4 L902.5 4237.4 L903.5 4231.7 L904.5 4227.5 L905 4226.2 L905.5 4225.4 L906 4225.3 L906.5 4225.7 L907 4226.6 L907.5 4228.1 L908.5 4232.6 L909.5 4238.5 L912 4255.5 L913 4261.7 L914 4267 L915 4271.2 L916 4274.5 L917 4276.8 L917.5 4277.7 L918.5 4279 L919 4279.4 L920 4280.1 L921 4280.4 L922 4280.6 L924.5 4280.8 L936.5 4280.5 L964.5 4280.4 L967 4280.2 L968.5 4279.8 L969.5 4279.1 L970 4278.5 L971 4276.8 L971.5 4275.6 L972 4274.1 L973 4270.2 L975 4260.6 L976 4256.6 L976.5 4255.2 L977 4254.4 L977.5 4254.2 L978 4254.6 L978.5 4255.6 L979 4257.2 L980 4261.5 L982 4271 L983 4274.6 L983.5 4276 L984.5 4278 L985 4278.6 L986 4279.5 L986.5 4279.7 L987.5 4280 L989.5 4280.1 L1012.5 4280 L1017 4279.8 L1018.5 4279.5 L1020 4278.9 L1021 4278.1 L1022 4276.8 L1023 4274.8 L1024 4271.9 L1025 4267.7 L1025.5 4265.1 L1026.5 4258.7 L1028 4246 L1029 4235.7 L1031.5 4207.4 L1033 4192.9 L1034 4186.3 L1034.5 4184.2 L1035 4183 L1035.5 4182.7 L1036 4183.3 L1036.5 4184.8 L1037 4187.2 L1038 4194.4 L1039 4203.9 L1042.5 4242.5 L1043.5 4251.8 L1044.5 4259.4 L1045.5 4265.5 L1046 4267.9 L1047 4271.7 L1047.5 4273.2 L1048.5 4275.4 L1049 4276.2 L1050 4277.3 L1051 4278 L1052 4278.3 L1053 4278.5 L1054.5 4278.7 L1075.5 4278.4 L1078 4278.3 L1080 4278.1 L1081.5 4277.7 L1084 4276.8 L1085 4276.6 L1086 4276.7 L1088.5 4277.4 L1090 4277.6 L1091.5 4277.7 L1093.5 4277.6 L1095 4277.4 L1096 4277.1 L1097 4276.6 L1097.5 4276.2 L1098.5 4275.1 L1099.5 4273.2 L1100.5 4270.3 L1101 4268.3 L1101.5 4266.1 L1102.5 4260.6 L1106 4237 L1107 4232.3 L1107.5 4230.9 L1108 4230.2 L1108.5 4230.3 L1109 4231.1 L1109.5 4232.5 L1110 4234.6 L1111 4240.3 L1113.5 4257.5 L1114.5 4263.4 L1115 4265.8 L1116 4269.7 L1116.5 4271.2 L1117.5 4273.4 L1118 4274.1 L1119 4275.1 L1120 4275.6 L1121.5 4276 L1124 4276.1 L1130.5 4275.9 L1132 4275.7 L1133.5 4275.3 L1134.5 4274.7 L1135 4274.2 L1136 4272.9 L1136.5 4271.9 L1137.5 4269.2 L1138 4267.3 L1139 4262.1 L1140 4254.5 L1141 4243.7 L1142 4229 L1142.5 4219.9 L1144 4185.3 L1145.5 4139.1 L1149 4005 L1150.5 3953.5 L1151.5 3928 L1152 3918.7 L1152.5 3912.1 L1153 3908.2 L1153.5 3907.3 L1154 3909.3 L1154.5 3914.1 L1155 3921.7 L1156 3944.4 L1157.5 3992.9 L1160 4090 L1161.5 4144.1 L1163 4188.5 L1164.5 4221.3 L1165 4229.8 L1166 4243.5 L1167 4253.5 L1168 4260.4 L1169 4265 L1170 4268 L1171 4269.9 L1171.5 4270.6 L1172.5 4271.4 L1174 4272.1 L1175 4272.3 L1176.5 4272.4 L1187 4272.5 L1188.5 4272.4 L1189.5 4272.2 L1190.5 4271.8 L1191.5 4271.1 L1192.5 4270 L1194.5 4267.1 L1195 4266.6 L1195.5 4266.3 L1196 4266.2 L1196.5 4266.5 L1197 4266.9 L1197.5 4267.6 L1199.5 4270.9 L1200.5 4272.3 L1201.5 4273.1 L1202 4273.4 L1203 4273.8 L1205 4274 L1209 4273.9 L1220.5 4273.6 L1227 4273.5 L1228 4273.4 L1229 4273.1 L1229.5 4272.8 L1230 4272.3 L1230.5 4271.5 L1231 4270.3 L1231.5 4268.6 L1232.5 4263.3 L1234.5 4248.2 L1235 4245.1 L1235.5 4243.1 L1236 4242.3 L1236.5 4243 L1237 4245.1 L1237.5 4248.1 L1239.5 4263.2 L1240.5 4268.5 L1241 4270.2 L1241.5 4271.3 L1242 4272.1 L1242.5 4272.6 L1243 4272.9 L1243.5 4273 L1244.5 4273 L1245 4272.8 L1245.5 4272.5 L1246 4272.1 L1246.5 4271.4 L1247.5 4269.3 L1249.5 4263.8 L1250 4262.9 L1250.5 4262.6 L1251 4262.9 L1251.5 4263.7 L1253.5 4269.2 L1254.5 4271.3 L1255 4271.9 L1255.5 4272.4 L1256 4272.7 L1257 4272.9 L1258 4273 L1262.5 4273 L1265 4272.9 L1268 4272.5 L1276 4271.3 L1278.5 4271 L1283.5 4270.9 L1287 4270.6 L1303.5 4268.4 L1307 4268.1 L1312 4267.9 L1315 4267.7 L1319.5 4267.1 L1329.5 4265.1 L1335.5 4264.2 L1336.5 4263.9 L1337.5 4263.3 L1338.5 4262.2 L1339 4261.3 L1340 4258.9 L1342 4252.6 L1342.5 4251.3 L1343 4250.4 L1343.5 4250.1 L1344 4250.2 L1344.5 4250.9 L1345 4252 L1347 4258.2 L1348 4260.7 L1348.5 4261.5 L1349 4262.1 L1349.5 4262.4 L1350 4262.4 L1350.5 4262.1 L1351 4261.5 L1351.5 4260.6 L1352 4259.4 L1353.5 4254.8 L1354 4253.6 L1354.5 4252.9 L1355 4252.7 L1355.5 4253 L1356 4254 L1357.5 4258.3 L1358.5 4260.7 L1359 4261.4 L1359.5 4261.9 L1360 4262 L1360.5 4261.7 L1361 4261.1 L1361.5 4260.2 L1362 4259.1 L1363.5 4254.8 L1364 4253.6 L1364.5 4252.9 L1365 4252.7 L1365.5 4253 L1366 4253.9 L1368 4259.2 L1369 4261.1 L1369.5 4261.7 L1370 4262.1 L1370.5 4262.3 L1371 4262.4 L1371.5 4262.3 L1372.5 4262.1 L1373.5 4261.4 L1374 4261 L1374.5 4260.4 L1375.5 4258.9 L1377.5 4254.9 L1378.5 4253.1 L1379 4252.5 L1379.5 4252.2 L1380 4252.2 L1380.5 4252.4 L1381 4252.9 L1381.5 4253.6 L1383.5 4257.5 L1384.5 4259.2 L1385.5 4260.4 L1386.5 4261.2 L1387 4261.5 L1388 4261.8 L1389.5 4262 L1392.5 4261.9 L1394 4261.7 L1395 4261.1 L1395.5 4260.5 L1396 4259.7 L1396.5 4258.5 L1397 4256.9 L1397.5 4254.7 L1398 4251.9 L1398.5 4248.3 L1399.5 4239 L1402 4210.6 L1402.5 4206.5 L1403 4203.8 L1403.5 4202.6 L1404 4203.1 L1404.5 4205.2 L1405 4208.7 L1406 4219 L1408 4241.9 L1409 4250.3 L1409.5 4253.4 L1410 4255.8 L1410.5 4257.6 L1411 4258.9 L1411.5 4259.7 L1412 4260.3 L1412.5 4260.5 L1413 4260.5 L1413.5 4260.3 L1414 4259.9 L1414.5 4259.3 L1415 4258.4 L1415.5 4257.2 L1416 4255.7 L1417 4251.8 L1419 4242.4 L1419.5 4240.4 L1420 4238.9 L1420.5 4237.9 L1421 4237.5 L1421.5 4237.9 L1422 4238.8 L1422.5 4240.4 L1423 4242.3 L1425 4251.6 L1426 4255.4 L1426.5 4256.9 L1427 4258.1 L1427.5 4259 L1428 4259.7 L1428.5 4260.1 L1429.5 4260.7 L1430.5 4261 L1431.5 4261 L1440 4261 L1441.5 4260.7 L1443 4260.1 L1445.5 4258.3 L1448 4256.2 L1449.5 4254.6 L1452 4251.5 L1453.5 4250 L1454.5 4249.4 L1456.5 4248.7 L1457 4248.3 L1457.5 4247.9 L1458.5 4246.4 L1460 4243.4 L1460.5 4242.7 L1461 4242.3 L1461.5 4242.2 L1462 4242.6 L1462.5 4243.4 L1463.5 4245.9 L1465 4250.3 L1466 4252.6 L1466.5 4253.4 L1467 4254 L1467.5 4254.4 L1468.5 4254.8 L1469.5 4254.9 L1470.5 4254.7 L1471 4254.5 L1472 4253.9 L1473 4252.8 L1474 4251.2 L1475 4248.9 L1476.5 4244.2 L1479 4234.3 L1480 4230.7 L1481 4228.1 L1481.5 4227.3 L1482 4226.9 L1482.5 4226.9 L1483 4227.3 L1483.5 4228 L1484.5 4230.5 L1485.5 4234.1 L1488.5 4245.9 L1489.5 4249 L1490.5 4251.4 L1491.5 4253.1 L1492 4253.8 L1493 4254.7 L1493.5 4255 L1494.5 4255.3 L1495 4255.4 L1496 4255.3 L1497 4255 L1498 4254.4 L1499 4253.4 L1499.5 4252.7 L1500.5 4250.9 L1501 4249.8 L1502 4246.8 L1502.5 4245 L1503.5 4240.6 L1505 4232.1 L1508.5 4207.2 L1510 4198 L1511 4193.7 L1511.5 4192.4 L1512 4191.5 L1512.5 4191.2 L1513 4191.6 L1513.5 4192.4 L1514 4193.9 L1515 4198.2 L1516.5 4207.5 L1520 4232.7 L1521 4238.7 L1522 4243.7 L1523 4247.7 L1523.5 4249.3 L1524.5 4251.9 L1525.5 4253.8 L1526 4254.5 L1527 4255.6 L1528.5 4256.5 L1529.5 4256.9 L1530.5 4257.1 L1533 4257.4 L1538.5 4257.7 L1547.5 4258 L1555 4257.9 L1558.5 4257.7 L1559.5 4257.4 L1560.5 4257 L1561.5 4256.2 L1562.5 4254.9 L1563.5 4252.8 L1564 4251.3 L1564.5 4249.7 L1565.5 4245.6 L1567.5 4235.8 L1568.5 4231.4 L1569 4229.7 L1569.5 4228.4 L1570 4227.7 L1570.5 4227.5 L1571 4227.8 L1571.5 4228.7 L1572 4230.1 L1573 4234 L1575.5 4245.6 L1576.5 4249.3 L1577.5 4252 L1578.5 4253.8 L1579.5 4254.8 L1580.5 4255.3 L1581 4255.4 L1582 4255.3 L1583 4255 L1584 4254.3 L1585 4253 L1585.5 4252 L1586.5 4249.4 L1587 4247.5 L1588 4242.6 L1589 4235.8 L1590 4227 L1593 4193.5 L1594 4183.5 L1594.5 4179.5 L1595 4176.3 L1595.5 4174.2 L1596 4173.2 L1596.5 4173.2 L1597 4174.4 L1597.5 4176.6 L1598 4179.9 L1599 4188.7 L1601.5 4216.6 L1603 4231.2 L1603.5 4235.2 L1604.5 4241.6 L1605 4244.1 L1606 4247.8 L1606.5 4249.2 L1607.5 4251.1 L1608.5 4252.1 L1609 4252.5 L1610 4252.9 L1612 4253.1 L1616.5 4253 L1618.5 4252.8 L1619.5 4252.5 L1620 4252.2 L1621 4251.4 L1621.5 4250.7 L1622 4249.8 L1622.5 4248.7 L1623 4247.1 L1623.5 4245.1 L1624 4242.5 L1625 4235.2 L1625.5 4230.3 L1626.5 4217.2 L1627.5 4199.3 L1629 4162.7 L1632 4069.1 L1633 4041.4 L1634 4021 L1634.5 4014.4 L1635 4010.6 L1635.5 4009.7 L1636 4011.7 L1636.5 4016.6 L1637 4024.1 L1638 4046.1 L1639 4074.8 L1641.5 4153.3 L1642.5 4180.2 L1643.5 4202.2 L1644.5 4219 L1645.5 4231.1 L1646 4235.6 L1647 4242.2 L1647.5 4244.5 L1648 4246.2 L1648.5 4247.6 L1649 4248.6 L1649.5 4249.4 L1650 4249.9 L1651 4250.6 L1652.5 4251 L1654 4251.1 L1656.5 4251 L1658 4250.9 L1659 4250.6 L1660 4250.2 L1661 4249.4 L1663.5 4246.8 L1664 4246.4 L1664.5 4246.3 L1665 4246.3 L1665.5 4246.5 L1666 4246.8 L1668.5 4249.7 L1669.5 4250.6 L1670 4250.9 L1671 4251.4 L1672.5 4251.7 L1675 4252 L1676 4252 L1677 4251.8 L1678.5 4251.2 L1680.5 4250 L1681.5 4249.7 L1682 4249.6 L1682.5 4249.8 L1683.5 4250.3 L1685.5 4252 L1686.5 4252.7 L1688 4253.3 L1689.5 4253.6 L1694.5 4254 L1699.5 4254 L1704.5 4253.7 L1706 4253.5 L1707 4253.3 L1708 4252.7 L1708.5 4252.3 L1709.5 4251 L1710 4250 L1711 4247.6 L1713.5 4239.4 L1714 4238.1 L1714.5 4237 L1715 4236.4 L1715.5 4236.1 L1716 4236.3 L1716.5 4236.8 L1718.5 4240.4 L1719 4241.1 L1719.5 4241.5 L1720 4241.6 L1720.5 4241.2 L1721 4240.4 L1721.5 4239.2 L1722.5 4235.7 L1723.5 4231.1 L1725.5 4220.8 L1726.5 4216.4 L1727 4214.6 L1727.5 4213.3 L1728 4212.5 L1728.5 4212.1 L1729 4212.2 L1729.5 4212.8 L1730 4213.8 L1731 4217.2 L1732 4221.8 L1735 4237 L1736 4241.1 L1737 4244.3 L1738 4246.7 L1739 4248.3 L1739.5 4248.8 L1740 4249.2 L1740.5 4249.3 L1741 4249.2 L1741.5 4248.8 L1742 4248.1 L1742.5 4246.7 L1743 4244.6 L1743.5 4241.4 L1744 4236.9 L1744.5 4230.4 L1745 4221.5 L1745.5 4209.6 L1746 4194 L1746.5 4174.1 L1747.5 4119.1 L1748.5 4042.2 L1751 3788.7 L1752 3699.2 L1752.5 3666 L1753 3643.2 L1753.5 3632.1 L1754 3633.4 L1754.5 3646.9 L1755 3672 L1755.5 3707 L1756.5 3799 L1758 3956.7 L1759 4051.1 L1760 4125.8 L1760.5 4154.9 L1761.5 4197.8 L1762 4212.7 L1762.5 4224 L1763 4232.4 L1763.5 4238.5 L1764 4242.8 L1764.5 4245.8 L1765 4247.9 L1765.5 4249.2 L1766 4250.1 L1766.5 4250.7 L1767 4251.1 L1768 4251.4 L1769 4251.6 L1778.5 4251.9 L1793 4252.1 L1798 4252.5 L1805 4253.5 L1806 4253.6 L1807 4253.5 L1808 4253.1 L1808.5 4252.7 L1809.5 4251.5 L1810 4250.6 L1811 4248.3 L1813 4242.1 L1814 4239.3 L1814.5 4238.3 L1815 4237.7 L1815.5 4237.4 L1816 4237.7 L1816.5 4238.3 L1817 4239.4 L1818 4242.3 L1819.5 4247.6 L1820.5 4250.8 L1821 4252.1 L1822 4254.1 L1823 4255.4 L1824 4256.1 L1825.5 4256.7 L1827.5 4256.9 L1830 4257 L1833.5 4256.9 L1835 4256.7 L1836 4256.1 L1837 4255 L1838 4253 L1840.5 4246.4 L1841 4245.5 L1841.5 4245 L1842 4245 L1842.5 4245.4 L1843 4246.2 L1843.5 4247.4 L1845.5 4252.9 L1846.5 4254.9 L1847 4255.6 L1848 4256.5 L1849 4256.9 L1850.5 4257.1 L1858.5 4257.3 L1860 4257.2 L1861 4256.9 L1862 4256.4 L1862.5 4255.9 L1863.5 4254.7 L1865.5 4251.7 L1866 4251.1 L1866.5 4250.8 L1867 4250.6 L1867.5 4250.8 L1868 4251.2 L1868.5 4251.7 L1870.5 4254.8 L1871.5 4256 L1872.5 4256.8 L1873 4257.1 L1874 4257.3 L1876 4257.5 L1887.5 4257.7 L1889 4257.6 L1890 4257.5 L1891 4257.2 L1892 4256.7 L1893 4256 L1895.5 4253.7 L1896.5 4253.3 L1897 4253.2 L1897.5 4253.4 L1898.5 4254 L1901.5 4257 L1902.5 4257.8 L1903.5 4258.3 L1904.5 4258.6 L1906 4258.9 L1912.5 4259.3 L1917.5 4259.5 L1930 4259.6 L1941.5 4259.9 L1944 4259.8 L1945.5 4259.4 L1946.5 4258.8 L1947.5 4257.9 L1950 4255.1 L1951 4254.4 L1951.5 4254.3 L1952 4254.4 L1952.5 4254.7 L1953 4255 L1956 4258.5 L1957.5 4259.7 L1958.5 4260.2 L1959.5 4260.4 L1962 4260.7 L1972 4260.9 L1986.5 4261 L1995.5 4261.2 L2030 4262.6 L2031.5 4262.5 L2033 4262.1 L2034.5 4261.2 L2037 4259.3 L2038 4258.9 L2038.5 4258.8 L2039 4258.9 L2040 4259.4 L2042.5 4261.5 L2043.5 4262.2 L2044.5 4262.7 L2046 4263.1 L2049 4263.4 L2060.5 4263.6 L2066.5 4264.1 L2072 4263.9 L2075 4263.9 L2103 4265.5 L2115.5 4266 L2143.5 4266.1 L2201.5 4266.8 L2228 4267" stroke-width="5.3" stroke-linejoin="round" stroke-linecap="round"/>
<path d="M1278.7 4165.5 L1343.6 4245.0" stroke-width="4.8"/>
<path d="M1282.5 4048.5 L1362.0 4244.4" stroke-width="4.8"/>
<path d="M1310.0 3950.0 L1403.0 4201.0" stroke-width="4.8"/>
<path d="M1390.0 3996.5 L1424.5 4230.5" stroke-width="4.8"/>
<path d="M1436.0 3891.5 L1463.2 4230.0" stroke-width="4.8"/>
<path d="M1485.0 3804.0 L1483.2 4216.0" stroke-width="4.8"/>
<path d="M1522.5 4001.5 L1515.0 4179.0" stroke-width="4.8"/>
<path d="M1571.0 3714.0 L1600.0 4162.5" stroke-width="4.8"/>
<path d="M1815.0 4104.0 L1818.0 4224.0" stroke-width="4.8"/>
<path d="M1905.0 4099.0 L1846.0 4230.0" stroke-width="4.8"/>
<path d="M2022.5 4099.0 L1873.5 4245.0" stroke-width="5.5"/>
<g stroke="#000" stroke-width="1.2" stroke-linejoin="round" fill="#000">
<text transform="translate(191.0 3400.4) scale(0.930 1)" font-size="51.5" text-anchor="end">75</text>
<text transform="translate(191.0 3861.2) scale(0.930 1)" font-size="51.5" text-anchor="end">35</text>
<text transform="translate(191.0 4322.0) scale(0.930 1)" font-size="51.5" text-anchor="end">-5</text>
<text transform="translate(240.0 4333.8) scale(0.930 1)" font-size="51.5" text-anchor="middle">0</text>
<text transform="translate(524.5 4333.8) scale(0.930 1)" font-size="51.5" text-anchor="middle">5</text>
<text transform="translate(809.0 4333.8) scale(0.930 1)" font-size="51.5" text-anchor="middle">10</text>
<text transform="translate(1093.5 4333.8) scale(0.930 1)" font-size="51.5" text-anchor="middle">15</text>
<text transform="translate(1378.0 4333.8) scale(0.930 1)" font-size="51.5" text-anchor="middle">20</text>
<text transform="translate(1662.5 4333.8) scale(0.930 1)" font-size="51.5" text-anchor="middle">25</text>
<text transform="translate(1947.0 4333.8) scale(0.930 1)" font-size="51.5" text-anchor="middle">30</text>
<text transform="translate(2231.5 4333.8) scale(0.930 1)" font-size="51.5" text-anchor="middle">35</text>
<text transform="translate(916.5 4204.3) scale(0.930 1)" font-size="51.5" text-anchor="middle">1</text>
<text transform="translate(990.0 4232.3) scale(0.930 1)" font-size="51.5" text-anchor="middle">2</text>
<text transform="translate(1043.5 4160.8) scale(0.930 1)" font-size="51.5" text-anchor="middle">3</text>
<text transform="translate(1115.0 4215.8) scale(0.930 1)" font-size="51.5" text-anchor="middle">4</text>
<text transform="translate(1161.0 3867.8) scale(0.930 1)" font-size="51.5" text-anchor="middle">5</text>
<text transform="translate(1198.5 4254.8) scale(0.930 1)" font-size="51.5" text-anchor="middle">6</text>
<text transform="translate(1242.5 4228.3) scale(0.930 1)" font-size="51.5" text-anchor="middle">7</text>
<text transform="translate(1263.0 4250.8) scale(0.930 1)" font-size="51.5" text-anchor="middle">8</text>
<text transform="translate(1267.5 4160.8) scale(0.930 1)" font-size="51.5" text-anchor="middle">9</text>
<text transform="translate(1276.5 4039.3) scale(0.930 1)" font-size="51.5" text-anchor="middle">10</text>
<text transform="translate(1307.8 3939.8) scale(0.930 1)" font-size="51.5" text-anchor="middle">11</text>
<text transform="translate(1386.5 3983.3) scale(0.930 1)" font-size="51.5" text-anchor="middle">12</text>
<text transform="translate(1428.5 3869.3) scale(0.930 1)" font-size="51.5" text-anchor="middle">13</text>
<text transform="translate(1489.9 3783.3) scale(0.930 1)" font-size="51.5" text-anchor="middle">14</text>
<text transform="translate(1527.4 3985.8) scale(0.930 1)" font-size="51.5" text-anchor="middle">15</text>
<text transform="translate(1561.9 4215.8) scale(0.930 1)" font-size="51.5" text-anchor="middle">17</text>
<text transform="translate(1566.5 3699.8) scale(0.930 1)" font-size="51.5" text-anchor="middle">18</text>
<text transform="translate(1635.2 3981.8) scale(0.930 1)" font-size="51.5" text-anchor="middle">19</text>
<text transform="translate(1718.0 4184.3) scale(0.930 1)" font-size="51.5" text-anchor="middle">20</text>
<text transform="translate(1750.0 3612.3) scale(0.930 1)" font-size="51.5" text-anchor="middle">21</text>
<text transform="translate(1815.0 4081.8) scale(0.930 1)" font-size="51.5" text-anchor="middle">22</text>
<text transform="translate(1918.5 4081.8) scale(0.930 1)" font-size="51.5" text-anchor="middle">23</text>
<text transform="translate(2038.0 4081.8) scale(0.930 1)" font-size="51.5" text-anchor="middle">24</text>
<text transform="translate(97.0 3701.2) rotate(-90) scale(1.011 1)" font-size="51" text-anchor="middle">mAU</text>
<text transform="translate(1236.3 4404.0) scale(1.070 1)" font-size="48.5" text-anchor="middle">Time, min</text>
<text transform="translate(1148.5 4552.0) scale(0.935 1)" font-size="87.5" stroke-width="0.5" text-anchor="middle">(<tspan font-weight="bold">c</tspan>)</text>
</g></g>
</svg>
</body></html>
